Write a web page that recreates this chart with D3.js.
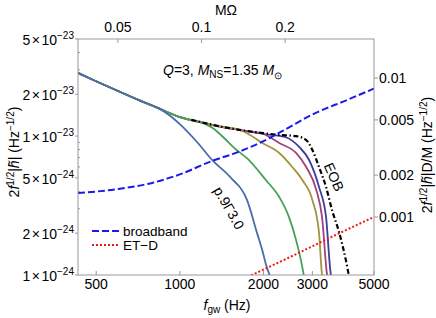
<!DOCTYPE html>
<html>
<head>
<meta charset="utf-8">
<script src="https://cdn.jsdelivr.net/npm/d3@7"></script>
<style>
  body { margin: 0; background: #fff; }
  svg { font-family: "Liberation Sans", Arial, sans-serif; }
</style>
</head>
<body>
<div id="chart"></div>
<script>
"use strict";

// tick values
var freqTicks = [500, 1000, 2000, 3000, 5000];
var mOmegaTicks = [0.05, 0.1, 0.2];
var leftTicks = [1e-24, 2e-24, 5e-24, 1e-23, 2e-23, 5e-23];
var leftMinor = [3e-24, 4e-24, 6e-24, 7e-24, 8e-24, 9e-24, 3e-23, 4e-23];
var rightTicks = [0.001, 0.002, 0.005, 0.01];

// detector noise curves [f (Hz), 2 f^1/2 |h|]
var broadband = [[430, 3.89e-24], [600, 4.16e-24], [800, 4.62e-24], [1000, 5.3e-24],
  [1300, 6.6e-24], [1600, 7.6e-24], [2000, 9.2e-24], [2500, 1.17e-23],
  [3000, 1.43e-23], [4000, 1.82e-23], [5000, 2.2e-23]];
var etD = [[1700, 0.94e-24], [2500, 1.35e-24], [3500, 1.87e-24], [5000, 2.62e-24]];

// shared inspiral part of the waveforms
var trunk = [[430, 2.85e-23], [475, 2.6e-23], [516, 2.41e-23], [599, 2.11e-23],
  [719, 1.8e-23], [848, 1.57e-23], [1000, 1.37e-23], [1182, 1.26e-23],
  [1395, 1.17e-23], [1647, 1.106e-23], [2009, 1.035e-23], [2391, 9.85e-24]];

// merger tails of the hybrid waveforms
var tailP9G30 = [[922, 1.4e-23], [1000, 1.22e-23], [1153, 9.07e-24], [1317, 6.62e-24],
  [1516, 5.08e-24], [1745, 3.47e-24], [1896, 2.01e-24], [1993, 1.44e-24],
  [2040, 1.2e-24], [2112, 0.98e-24]];
var tailGreen = [[1317, 1.14e-23], [1431, 9.85e-24], [1600, 7.94e-24], [1740, 6.96e-24],
  [2040, 4.83e-24], [2280, 3.64e-24], [2470, 2.62e-24], [2620, 1.79e-24],
  [2760, 1.14e-24], [2800, 0.97e-24]];
var tailOlive = [[1789, 1.018e-23], [1983, 8.92e-24], [2280, 7.56e-24], [2540, 5.99e-24],
  [2760, 4.83e-24], [3000, 3.47e-24], [3170, 2.01e-24], [3250, 1e-24], [3280, 0.9e-24]];
var tailPurple = [[2100, 9.85e-24], [2280, 8.92e-24], [2620, 7.56e-24], [2850, 5.99e-24],
  [3100, 4.09e-24], [3250, 2.62e-24], [3390, 1e-24], [3420, 0.92e-24]];
var tailNavy = [[2690, 8.35e-24], [2920, 6.73e-24], [3170, 4.3e-24],
  [3360, 2.62e-24], [3500, 1e-24], [3530, 0.95e-24]];

var eob = [[1100, 1.31e-23], [1510, 1.14e-23], [2000, 1.05e-23], [2280, 1.02e-23],
  [2620, 1.0e-23], [2850, 9.37e-24], [3000, 7.94e-24], [3170, 5.99e-24],
  [3360, 4.3e-24], [3530, 2.94e-24], [3750, 2.01e-24], [3960, 1.28e-24],
  [4060, 1e-24], [4130, 0.89e-24]];

var mOmegaPerHz = 8.354e-5;   // M*Omega per Hz for M = 5.4 Msun
var distFactor = 3.822e20;    // D/M conversion for the right axis

function withTrunk(fmax, tail) {
  return trunk.filter(function(d) { return d[0] <= fmax; }).concat(tail);
}

var waveforms = [
  { name: "navy", color: "#3b3f9c", data: withTrunk(2391, tailNavy) },
  { name: "purple", color: "#a3407e", data: withTrunk(2009, tailPurple) },
  { name: "olive", color: "#a3923f", data: withTrunk(1647, tailOlive) },
  { name: "green", color: "#44a05a", data: withTrunk(1182, tailGreen) },
  { name: "p.9Γ3.0", color: "#4a6cab", data: withTrunk(848, tailP9G30) }
];

var margin = {top: 39, right: 62, bottom: 43, left: 78},
    width = 436 - margin.left - margin.right,
    height = 318 - margin.top - margin.bottom;

var x = d3.scaleLog().domain([430, 5000]).range([0, width]);
var y = d3.scaleLog().domain([1e-24, 5e-23]).range([height, 0]);
var xTop = d3.scaleLog().domain([430 * mOmegaPerHz, 5000 * mOmegaPerHz]).range([0, width]);
var yRight = d3.scaleLog().domain([1e-24 * distFactor, 5e-23 * distFactor]).range([height, 0]);

var svg = d3.select("#chart").append("svg")
    .attr("width", 436)
    .attr("height", 318);

var g = svg.append("g")
    .attr("transform", "translate(" + margin.left + "," + margin.top + ")");

g.append("clipPath").attr("id", "clip")
  .append("rect").attr("width", width).attr("height", height);

var line = d3.line()
    .curve(d3.curveMonotoneX)
    .x(function(d) { return x(d[0]); })
    .y(function(d) { return y(d[1]); });

var plot = g.append("g").attr("clip-path", "url(#clip)");

waveforms.forEach(function(s) {
  plot.append("path")
      .datum(s.data)
      .attr("fill", "none")
      .attr("stroke", s.color)
      .attr("stroke-width", 1.8)
      .attr("d", line);
});

plot.append("path")
    .datum(eob)
    .attr("fill", "none")
    .attr("stroke", "#000")
    .attr("stroke-width", 2.2)
    .attr("stroke-dasharray", "5,2.5,1.5,2.5")
    .attr("d", line);

plot.append("path")
    .datum(broadband)
    .attr("fill", "none")
    .attr("stroke", "#1a1aee")
    .attr("stroke-width", 2)
    .attr("stroke-dasharray", "7,3")
    .attr("d", line);

plot.append("path")
    .datum(etD)
    .attr("fill", "none")
    .attr("stroke", "#ee1a1a")
    .attr("stroke-width", 2)
    .attr("stroke-dasharray", "2,2")
    .attr("d", line);

// frame
var frameColor = "#999";
g.append("rect")
    .attr("width", width).attr("height", height)
    .attr("fill", "none").attr("stroke", frameColor);

// bottom axis
freqTicks.forEach(function(t) {
  g.append("line").attr("x1", x(t)).attr("x2", x(t))
      .attr("y1", height).attr("y2", height - 4).attr("stroke", frameColor);
  g.append("text").attr("x", x(t)).attr("y", height + 14)
      .attr("text-anchor", "middle").style("font-size", "14px").text(t);
});

// top axis
mOmegaTicks.forEach(function(t) {
  g.append("line").attr("x1", xTop(t)).attr("x2", xTop(t))
      .attr("y1", 0).attr("y2", 4).attr("stroke", frameColor);
  g.append("text").attr("x", xTop(t)).attr("y", -7)
      .attr("text-anchor", "middle").style("font-size", "14px").text(t);
});

// left axis
function sciLabel(sel, v) {
  var e = Math.floor(Math.log10(v) + 1e-9);
  var m = Math.round(v / Math.pow(10, e));
  sel.append("tspan").text(m);
  sel.append("tspan").attr("dx", 1.5).text("\u00d7");
  sel.append("tspan").attr("dx", 1.5).text("10");
  sel.append("tspan").attr("dy", -6).style("font-size", "10px").text("\u2212" + (-e));
}
leftTicks.forEach(function(t) {
  g.append("line").attr("x1", 0).attr("x2", -3)
      .attr("y1", y(t)).attr("y2", y(t)).attr("stroke", frameColor);
  var tx = g.append("text").attr("x", -4).attr("y", y(t) + 6)
      .attr("text-anchor", "end").style("font-size", "14px");
  sciLabel(tx, t);
});
leftMinor.forEach(function(t) {
  g.append("line").attr("x1", 0).attr("x2", 2)
      .attr("y1", y(t)).attr("y2", y(t)).attr("stroke", frameColor);
});

// right axis
rightTicks.forEach(function(t) {
  g.append("line").attr("x1", width).attr("x2", width + 4)
      .attr("y1", yRight(t)).attr("y2", yRight(t)).attr("stroke", frameColor);
  g.append("text").attr("x", width + 5).attr("y", yRight(t) + 5)
      .style("font-size", "14px").text(t);
});

// axis titles
var bt = svg.append("text").attr("x", 227).attr("y", 310)
    .attr("text-anchor", "middle").style("font-size", "14px");
bt.append("tspan").style("font-style", "italic").text("f");
bt.append("tspan").attr("dy", 3).style("font-size", "10px").text("gw");
bt.append("tspan").attr("dy", -3).text(" (Hz)");

svg.append("text").attr("x", 226).attr("y", 15)
    .attr("text-anchor", "middle").style("font-size", "14px").text("M\u03a9");

function ampLabel(sel, withDist) {
  sel.append("tspan").text("2");
  sel.append("tspan").style("font-style", "italic").text("f");
  sel.append("tspan").attr("dy", -5).style("font-size", "10px").text("1/2");
  sel.append("tspan").attr("dy", 5).text("|");
  sel.append("tspan").style("font-style", "italic").text("h\u0303");
  sel.append("tspan").text(withDist ? "|D/M (Hz" : "| (Hz");
  sel.append("tspan").attr("dy", -5).style("font-size", "10px").text("\u22121/2");
  sel.append("tspan").attr("dy", 5).text(")");
}
var lt = svg.append("text")
    .attr("transform", "translate(19,152) rotate(-90)")
    .attr("text-anchor", "middle").style("font-size", "14px");
ampLabel(lt, false);
var rt = svg.append("text")
    .attr("transform", "translate(432,155) rotate(-90)")
    .attr("text-anchor", "middle").style("font-size", "14px");
ampLabel(rt, true);

// annotation
var ann = svg.append("text").attr("x", 163).attr("y", 75).style("font-size", "14px");
ann.append("tspan").style("font-style", "italic").text("Q");
ann.append("tspan").text("=3, ");
ann.append("tspan").style("font-style", "italic").text("M");
ann.append("tspan").attr("dy", 3).style("font-size", "10px").text("NS");
ann.append("tspan").attr("dy", -3).text("=1.35 ");
ann.append("tspan").style("font-style", "italic").text("M");
ann.append("tspan").attr("dy", 4).style("font-size", "10px").text("\u2299");

// curve labels
svg.append("text")
    .attr("transform", "translate(229,208) rotate(60)")
    .attr("text-anchor", "middle").attr("dy", "0.35em")
    .style("font-size", "14px").text("p.9\u03933.0");
svg.append("text")
    .attr("transform", "translate(334,177) rotate(66)")
    .attr("text-anchor", "middle").attr("dy", "0.35em")
    .style("font-size", "14px").text("EOB");

// legend
var legend = [
  { label: "broadband", color: "#1a1aee", dash: "7,3", y: 231 },
  { label: "ET\u2212D", color: "#ee1a1a", dash: "2,2", y: 245 }
];
legend.forEach(function(d) {
  svg.append("line").attr("x1", 92).attr("x2", 120)
      .attr("y1", d.y).attr("y2", d.y)
      .attr("stroke", d.color).attr("stroke-width", 2)
      .attr("stroke-dasharray", d.dash);
  svg.append("text").attr("x", 123).attr("y", d.y + 5)
      .style("font-size", "13.5px").text(d.label);
});
</script>
</body>
</html>
